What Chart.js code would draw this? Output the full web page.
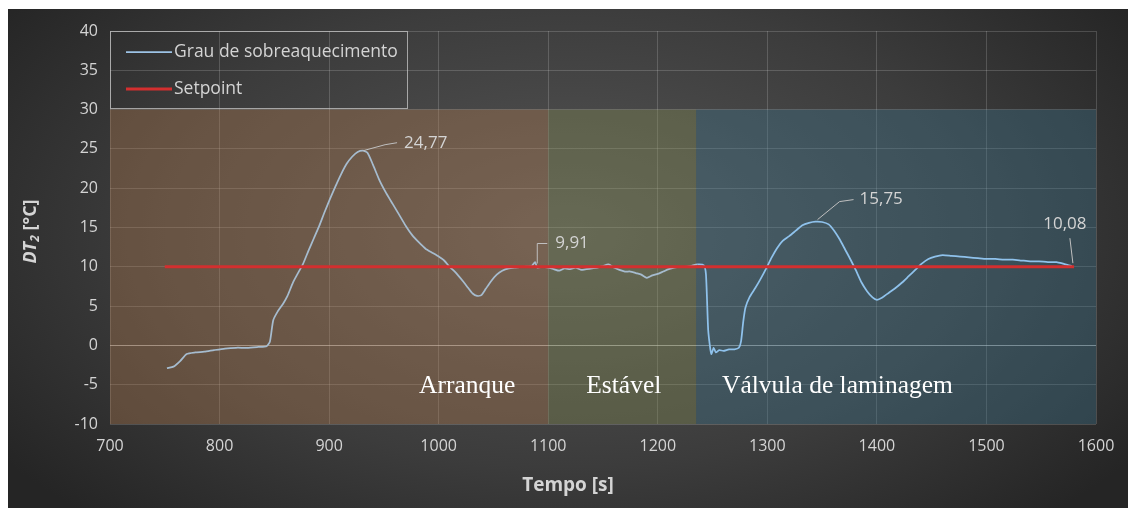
<!DOCTYPE html>
<html>
<head>
<meta charset="utf-8">
<script src="https://cdn.jsdelivr.net/npm/chart.js@4.4.2/dist/chart.umd.min.js"></script>
<style>
  html, body { margin: 0; padding: 0; background: #fff; }
  #wrap {
    position: absolute; left: 8px; top: 9px; width: 1120px; height: 499px;
    background: radial-gradient(ellipse 62% 78% at 50% 45%, #565656 0%, #3c3c3c 60%, #252525 100%);
  }
  canvas { display: block; }
</style>
</head>
<body>
<div id="wrap"><canvas id="grafico" width="1120" height="499"></canvas></div>
<script>
// Dados: tempo [s] e grau de sobreaquecimento DT2 [°C]
const tempo = [
  752, 758, 764, 770, 778, 786, 795, 805, 815, 825, 835, 843, 846, 849, 853, 858, 862, 867, 872, 876,
  881, 886, 891, 896, 901, 906, 911, 916, 921, 926, 931, 935, 940, 946, 952, 958, 964, 970, 976, 982,
  988, 994, 1000, 1005, 1010, 1016, 1022, 1027, 1031, 1035, 1039, 1043, 1048, 1053, 1058, 1064, 1070, 1078, 1085, 1088,
  1090, 1095, 1100, 1105, 1110, 1115, 1120, 1125, 1130, 1135, 1140, 1145, 1150, 1155, 1160, 1165, 1170, 1175, 1180, 1185,
  1190, 1195, 1200, 1205, 1210, 1215, 1220, 1225, 1230, 1236, 1242, 1244, 1246, 1248, 1249, 1251, 1253, 1256, 1260, 1265,
  1270, 1274, 1276, 1278, 1280, 1284, 1289, 1294, 1299, 1304, 1309, 1314, 1320, 1326, 1332, 1338, 1344, 1350, 1356, 1361,
  1366, 1371, 1376, 1381, 1386, 1391, 1396, 1400, 1405, 1411, 1417, 1423, 1429, 1435, 1441, 1447, 1453, 1460, 1468, 1476,
  1484, 1492, 1500, 1508, 1516, 1524, 1532, 1540, 1548, 1556, 1564, 1570, 1575, 1578
];
const grauSobreaquecimento = [
  -2.9, -2.7, -2.0, -1.1, -0.9, -0.8, -0.6, -0.4, -0.3, -0.3, -0.2, -0.1, 0.5, 3.2, 4.3, 5.3, 6.3, 8.0, 9.3, 10.3,
  12.0, 13.6, 15.2, 17.0, 18.7, 20.3, 21.8, 23.1, 24.0, 24.6, 24.77, 24.5, 23.0, 21.0, 19.4, 18.0, 16.6, 15.2, 14.0, 13.1,
  12.3, 11.8, 11.3, 10.8, 10.0, 9.2, 8.2, 7.3, 6.6, 6.3, 6.4, 7.2, 8.2, 9.0, 9.5, 9.8, 9.9, 10.0, 10.1, 10.6,
  9.91, 10.0, 9.9, 9.7, 9.5, 9.8, 9.7, 9.9, 9.6, 9.7, 9.8, 9.9, 10.1, 10.3, 9.9, 9.6, 9.4, 9.4, 9.2, 9.0,
  8.6, 8.9, 9.1, 9.4, 9.7, 9.9, 10.0, 10.0, 10.1, 10.3, 10.2, 9.0, 2.0, -0.5, -1.1, -0.3, -0.9, -0.6, -0.7, -0.5,
  -0.5, -0.3, 0.5, 3.0, 4.8, 6.2, 7.3, 8.5, 9.8, 11.2, 12.4, 13.3, 13.9, 14.6, 15.3, 15.6, 15.75, 15.7, 15.4, 14.6,
  13.5, 12.2, 10.9, 9.5, 8.0, 6.9, 6.1, 5.8, 6.1, 6.7, 7.3, 8.0, 8.8, 9.6, 10.4, 11.0, 11.3, 11.5, 11.4, 11.3,
  11.2, 11.1, 11.0, 11.0, 10.9, 10.9, 10.8, 10.7, 10.7, 10.6, 10.6, 10.4, 10.2, 10.08
];
const setpointTempo = [750, 1580];
const setpointValor = [10, 10];

// Fases do ensaio (faixas coloridas)
const fases = ['Arranque', 'Estável', 'Válvula de laminagem'];
const faseInicio = [700, 1100, 1235];
const faseFim = [1100, 1235, 1600];
const faseTopo = 30;

// Pontos com rótulo de valor
const rotuloTempo = [931, 1090, 1344, 1578];
const rotuloValor = [24.77, 9.91, 15.75, 10.08];

// Eixos
const eixoX = { min: 700, max: 1600, passo: 100 };
const eixoY = { min: -10, max: 40, passo: 5 };

const fonte = '"Open Sans", "Noto Sans", sans-serif';
const corTexto = '#d4d4d4';
const coresFases = ['rgba(180,126,80,0.36)', 'rgba(132,140,84,0.36)', 'rgba(62,116,140,0.36)'];
const posRotuloFase = [1026, 1169, 1364];

// Linhas de chamada dos rótulos: deslocamentos em px a partir do ponto
const chamadas = [
  { linha: [[0, 0], [22, -6], [34, -8]], texto: [41, -8], alinhar: 'left' },
  { linha: [[0, -4], [0, -24], [10, -24]], texto: [18, -24], alinhar: 'left' },
  { linha: [[2, -2], [24, -20], [38, -22]], texto: [44, -22], alinhar: 'left' },
  { linha: [[1, -3], [-2, -28]], texto: [-7, -42], alinhar: 'center' }
];

const pontos = (xs, ys) => xs.map((t, i) => ({ x: t, y: ys[i] }));

const decoracao = {
  id: 'decoracao',
  beforeDatasetsDraw(chart) {
    const { ctx, scales: { x, y } } = chart;
    ctx.save();
    fases.forEach((f, i) => {
      const x0 = x.getPixelForValue(faseInicio[i]);
      const x1 = x.getPixelForValue(faseFim[i]);
      const y0 = y.getPixelForValue(faseTopo);
      const y1 = y.getPixelForValue(eixoY.min);
      ctx.fillStyle = coresFases[i];
      ctx.fillRect(x0, y0, x1 - x0, y1 - y0);
    });
    ctx.restore();
  },
  afterDatasetsDraw(chart) {
    const { ctx, scales: { x, y } } = chart;
    ctx.save();
    // nomes das fases
    ctx.fillStyle = '#ffffff';
    ctx.font = '25.5px "Liberation Serif", "Times New Roman", serif';
    ctx.textAlign = 'center';
    ctx.textBaseline = 'middle';
    fases.forEach((f, i) => {
      ctx.fillText(f, x.getPixelForValue(posRotuloFase[i]), y.getPixelForValue(-5) + 2);
    });
    // rótulos de valor
    ctx.font = '17px ' + fonte;
    ctx.strokeStyle = '#bfbfbf';
    ctx.lineWidth = 1;
    rotuloTempo.forEach((t, i) => {
      const px = x.getPixelForValue(t);
      const py = y.getPixelForValue(rotuloValor[i]);
      const c = chamadas[i];
      ctx.beginPath();
      c.linha.forEach(([dx, dy], k) => {
        if (k === 0) ctx.moveTo(px + dx, py + dy); else ctx.lineTo(px + dx, py + dy);
      });
      ctx.stroke();
      ctx.fillStyle = corTexto;
      ctx.textAlign = c.alinhar;
      ctx.fillText(rotuloValor[i].toFixed(2).replace('.', ','), px + c.texto[0], py + c.texto[1]);
    });
    ctx.restore();
  },
  afterDraw(chart) {
    const { ctx, chartArea } = chart;
    ctx.save();
    // legenda
    const lx = chartArea.left, ly = chartArea.top;
    ctx.strokeStyle = 'rgba(200,200,200,0.75)';
    ctx.lineWidth = 1;
    ctx.strokeRect(lx + 0.5, ly + 0.5, 297, 77);
    ctx.font = '17.5px ' + fonte;
    ctx.textAlign = 'left';
    ctx.textBaseline = 'middle';
    const coresLegenda = ['#9dc3e6', '#d32f2f'];
    chart.data.datasets.forEach((ds, i) => {
      const yy = ly + 21 + i * 37;
      ctx.strokeStyle = coresLegenda[i];
      ctx.lineWidth = ds.borderWidth;
      ctx.beginPath();
      ctx.moveTo(lx + 16, yy);
      ctx.lineTo(lx + 62, yy);
      ctx.stroke();
      ctx.fillStyle = corTexto;
      ctx.fillText(ds.label, lx + 64, yy);
    });
    // título do eixo X (centrado no gráfico todo)
    ctx.font = 'bold 19px ' + fonte;
    ctx.textAlign = 'center';
    ctx.fillText('Tempo [s]', chart.width / 2, 477);
    // título do eixo Y: DT₂ [°C]
    ctx.translate(23, (chartArea.top + chartArea.bottom) / 2 + 4);
    ctx.rotate(-Math.PI / 2);
    const partes = [
      { t: 'DT', f: 'italic bold 18px ' + fonte, dy: 0 },
      { t: '2', f: 'italic bold 12px ' + fonte, dy: 5 },
      { t: ' [°C]', f: 'bold 18px ' + fonte, dy: 0 }
    ];
    let total = 0;
    partes.forEach(p => { ctx.font = p.f; total += ctx.measureText(p.t).width; });
    let cx = -total / 2;
    ctx.textAlign = 'left';
    partes.forEach(p => {
      ctx.font = p.f;
      ctx.fillText(p.t, cx, p.dy);
      cx += ctx.measureText(p.t).width;
    });
    ctx.restore();
  }
};

new Chart(document.getElementById('grafico'), {
  type: 'line',
  data: {
    datasets: [
      {
        label: 'Grau de sobreaquecimento',
        data: pontos(tempo, grauSobreaquecimento),
        borderColor: '#9dc3e6',
        borderWidth: 1.75,
        pointRadius: 0,
        tension: 0.2,
        order: 1,
        // a linha aparece mais acinzentada sobre as faixas castanha e verde
        segment: {
          borderColor: c => c.p0.parsed.x >= faseInicio[2] ? '#8fc2ec' : '#a6bccf'
        }
      },
      {
        label: 'Setpoint',
        data: pontos(setpointTempo, setpointValor),
        borderColor: '#d32f2f',
        borderWidth: 3,
        pointRadius: 0,
        order: 0
      }
    ]
  },
  options: {
    responsive: false,
    animation: false,
    layout: { padding: { top: 22, right: 32, bottom: 0, left: 0 } },
    plugins: {
      legend: { display: false },
      tooltip: { enabled: false }
    },
    scales: {
      x: {
        type: 'linear',
        min: eixoX.min, max: eixoX.max,
        afterFit: s => { s.height = 84; },
        border: { display: false },
        grid: {
          color: 'rgba(255,255,255,0.17)',
          drawTicks: false
        },
        ticks: {
          stepSize: eixoX.passo,
          color: corTexto,
          padding: 13,
          maxRotation: 0,
          font: { family: fonte, size: 16 },
          callback: v => String(v)
        }
      },
      y: {
        min: eixoY.min, max: eixoY.max,
        afterFit: s => { s.width = 102; },
        border: { display: false },
        grid: {
          color: c => c.tick && c.tick.value === 0 ? 'rgba(225,225,225,0.6)' : 'rgba(255,255,255,0.17)',
          drawTicks: false
        },
        ticks: {
          stepSize: eixoY.passo,
          color: corTexto,
          padding: 12,
          font: { family: fonte, size: 16 },
          callback: v => String(v)
        }
      }
    }
  },
  plugins: [decoracao]
});
</script>
</body>
</html>
